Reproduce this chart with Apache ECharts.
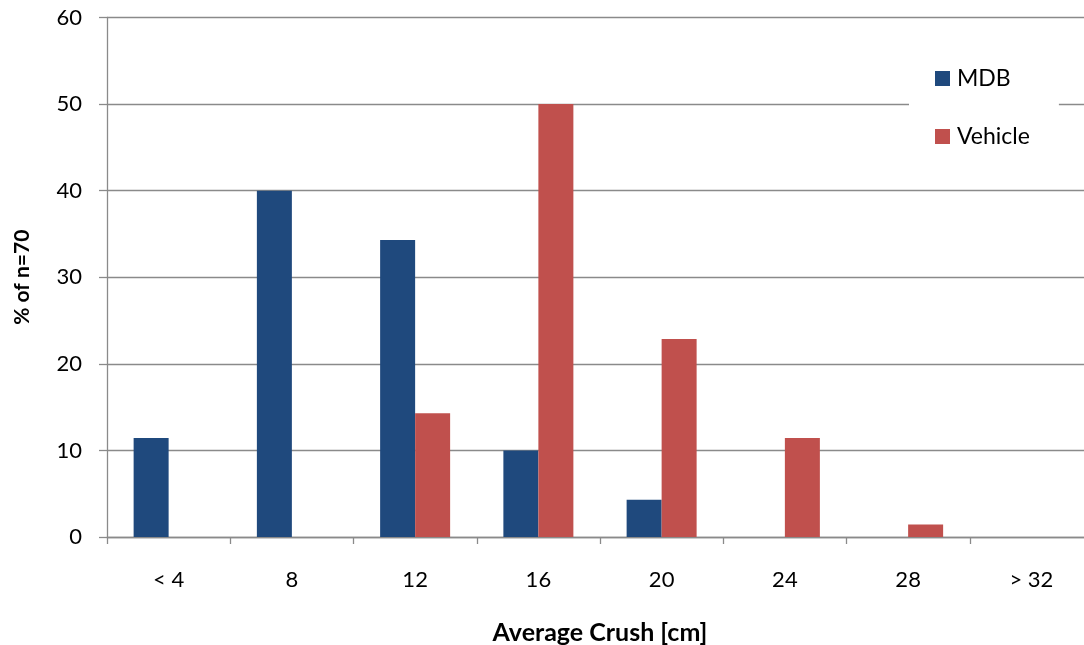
<!DOCTYPE html>
<html>
<head>
<meta charset="utf-8">
<script src="https://cdn.jsdelivr.net/npm/echarts@6/dist/echarts.min.js"></script>
<style>
  html, body { margin: 0; padding: 0; background: #fff; }
  #chart { width: 1084px; height: 645px; }
</style>
</head>
<body>
<div id="chart"></div>
<script>
// Crush-depth bins (cm)
const categories = ['< 4', '8', '12', '16', '20', '24', '28', '> 32'];
// Share of the 70 cases in each bin (%)
const mdbValues = [11.43, 40, 34.29, 10, 4.29, 0, 0, 0];
const vehicleValues = [0, 0, 14.29, 50, 22.86, 11.43, 1.43, 0];
const yTicks = { min: 0, max: 60, interval: 10 };

const axisGray = '#8a8a8a';
const font = 'Lato, "Open Sans", sans-serif';

const chart = echarts.init(document.getElementById('chart'), null, { renderer: 'canvas' });
chart.setOption({
  animation: false,
  backgroundColor: '#fff',
  grid: { left: 107, right: -9, top: 17.5, bottom: 108, outerBoundsMode: 'none', containLabel: false },
  legend: {
    orient: 'vertical',
    left: 909,
    top: 50,
    padding: [17, 29, 17, 26],
    backgroundColor: '#fff',
    itemWidth: 15,
    itemHeight: 15,
    itemGap: 35,
    icon: 'rect',
    textStyle: { fontFamily: font, fontSize: 23, color: '#000', lineHeight: 23, padding: [0, 0, 0, 2] },
    data: ['MDB', 'Vehicle']
  },
  xAxis: {
    type: 'category',
    data: categories,
    name: 'Average Crush [cm]',
    nameLocation: 'middle',
    nameGap: 83,
    nameTextStyle: { fontFamily: font, fontSize: 25, fontWeight: 'bold', color: '#000' },
    axisLine: { lineStyle: { color: axisGray, width: 1.3 } },
    axisTick: { show: true, length: 7, lineStyle: { color: axisGray, width: 1.3 } },
    axisLabel: { fontFamily: font, fontSize: 22, color: '#000', margin: 32 },
    splitLine: { show: false }
  },
  yAxis: {
    type: 'value',
    min: yTicks.min,
    max: yTicks.max,
    interval: yTicks.interval,
    name: '% of n=70',
    nameLocation: 'middle',
    nameGap: 74,
    nameRotate: 90,
    nameTextStyle: { fontFamily: font, fontSize: 21, fontWeight: 'bold', color: '#000' },
    axisLine: { show: true, lineStyle: { color: axisGray, width: 1.3 } },
    axisTick: { show: true, length: 8, lineStyle: { color: axisGray, width: 1.3 } },
    axisLabel: { fontFamily: font, fontSize: 22, color: '#000', margin: 25 },
    splitLine: { show: true, lineStyle: { color: axisGray, width: 1.3 } }
  },
  series: [
    {
      name: 'MDB',
      type: 'bar',
      data: mdbValues,
      barWidth: 35,
      barGap: '0%',
      itemStyle: { color: '#1F497D' }
    },
    {
      name: 'Vehicle',
      type: 'bar',
      data: vehicleValues,
      barWidth: 35,
      barGap: '0%',
      itemStyle: { color: '#C0504D' }
    }
  ]
});
</script>
</body>
</html>
